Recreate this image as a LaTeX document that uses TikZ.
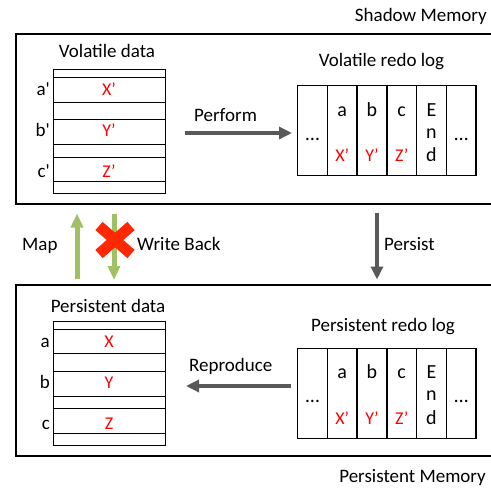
\documentclass[tikz,border=0pt]{standalone}
\usepackage{fontspec}
\setmainfont{Carlito}
\usetikzlibrary{arrows.meta,calc}
\definecolor{arrgray}{RGB}{89,89,89}
\definecolor{mapgreen}{RGB}{160,192,100}
\definecolor{xred}{RGB}{255,40,0}
\tikzset{
  outerbox/.style={draw, line width=2pt, inner sep=0pt, outer sep=0pt},
  rowbox/.style={draw, line width=0.9pt, minimum width=112pt, inner sep=0pt, outer sep=0pt},
  logcol/.style={draw, line width=1.3pt, minimum width=29.72pt, minimum height=90pt, inner sep=0pt, outer sep=0pt},
  lbl/.style={inner sep=0pt, font=\fontsize{19}{22}\selectfont},
  redtxt/.style={inner sep=0pt, text=red, font=\fontsize{18}{20}\selectfont},
  logtxt/.style={inner sep=0pt, anchor=base, font=\fontsize{20}{22}\selectfont},
  logred/.style={logtxt, text=red, font=\fontsize{18}{20}\selectfont},
  grayarrow/.style={draw=arrgray, line width=4.5pt, -{Triangle[length=13pt,width=12pt]}},
  greenarrow/.style={draw=mapgreen, line width=5pt, -{Triangle[length=14pt,width=12pt]}},
  pics/datatable/.style n args={6}{code={
    \node[rowbox, minimum height=8.4pt, anchor=north west] (-r1) at (0,0) {};
    \node[rowbox, minimum height=24.3pt, anchor=north west] (-r2) at (0,8.4) {};
    \node[rowbox, minimum height=17.3pt, anchor=north west] (-r3) at (0,32.7) {};
    \node[rowbox, minimum height=25pt, anchor=north west] (-r4) at (0,50) {};
    \node[rowbox, minimum height=12.7pt, anchor=north west] (-r5) at (0,75) {};
    \node[rowbox, minimum height=24.7pt, anchor=north west] (-r6) at (0,87.7) {};
    \node[rowbox, minimum height=11.6pt, anchor=north west] (-r7) at (0,112.4) {};
    \node[lbl, anchor=base east] (-l1) at (-3,26.2) {#1};
    \node[lbl, anchor=base east] (-l2) at (-3,67.2) {#2};
    \node[lbl, anchor=base east] (-l3) at (-3,108.5) {#3};
    \node[redtxt, anchor=base] (-v1) at (56,26.2) {#4};
    \node[redtxt, anchor=base] (-v2) at (56,67.2) {#5};
    \node[redtxt, anchor=base] (-v3) at (56,108.5) {#6};
  }},
  pics/redolog/.style={code={
    \foreach \i in {0,...,5} {\node[logcol, anchor=north west] (-c\i) at (\i*29.72,0) {};}
    \node[logtxt] (-d0) at (14.86,54.3) {\ldots};
    \node[logtxt] (-a) at (44.58,30.3) {a};
    \node[logred] (-x) at (44.58,76) {X’};
    \node[logtxt] (-b) at (74.30,30.3) {b};
    \node[logred] (-y) at (74.30,76) {Y’};
    \node[logtxt] (-c) at (104.02,30.3) {c};
    \node[logred] (-z) at (104.02,76) {Z’};
    \node[logtxt] (-e1) at (133.74,30.3) {E};
    \node[logtxt] (-e2) at (133.74,52.3) {n};
    \node[logtxt] (-e3) at (133.74,76) {d};
    \node[logtxt] (-d5) at (163.46,54.3) {\ldots};
  }}
}
\begin{document}
\begin{tikzpicture}[x=1pt,y=-1pt]
\useasboundingbox (0,0) rectangle (491,488);
% outer boxes
\node[outerbox, minimum width=490pt, minimum height=170pt, anchor=north west] (shadow) at (16,34) {};
\node[outerbox, minimum width=490pt, minimum height=171pt, anchor=north west] (pmem) at (16,285) {};
\node[lbl, anchor=base east] (shadowlbl) at (487,21) {Shadow Memory};
\node[lbl, anchor=base east] (pmemlbl) at (486,482.5) {Persistent Memory};
% data tables
\pic (vd) at (53,69.3) {datatable={a\textquotesingle}{b\textquotesingle}{c\textquotesingle}{X’}{Y’}{Z’}};
\pic (pd) at (53,321) {datatable={a}{b}{c}{X}{Y}{Z}};
\node[lbl, anchor=base] (vdtitle) at (107,57.5) {Volatile data};
\node[lbl, anchor=base] (pdtitle) at (108,312.3) {Persistent data};
% redo logs
\pic (vl) at (297.7,85.7) {redolog};
\pic (pl) at (297.7,348.3) {redolog};
\node[lbl, anchor=base] (vltitle) at (381.5,66.5) {Volatile redo log};
\node[lbl, anchor=base] (pltitle) at (383,331.7) {Persistent redo log};
% arrows
\coordinate (perfS) at (185,133);
\coordinate (perfE) at (292,133);
\draw[grayarrow] (perfS) -- (perfE);
\node[lbl, anchor=base west] (perflbl) at (194,121.7) {Perform};
\coordinate (repS) at (290.7,386);
\coordinate (repE) at (186,386);
\draw[grayarrow] (repS) -- (repE);
\node[lbl, anchor=base west] (replbl) at (189,371.7) {Reproduce};
\coordinate (perS) at (377,212.5);
\coordinate (perE) at (377,279.5);
\draw[grayarrow] (perS) -- (perE);
\node[lbl, anchor=base west] (perlbl) at (384,250) {Persist};
\coordinate (mapS) at (77,279);
\coordinate (mapE) at (77,213.5);
\draw[greenarrow] (mapS) -- (mapE);
\node[lbl, anchor=base west] (maplbl) at (22,250) {Map};
\coordinate (wbS) at (114,213.5);
\coordinate (wbE) at (114,280);
\draw[greenarrow] (wbS) -- (wbE);
\node[lbl, anchor=base west] (wblbl) at (137,250) {Write Back};
% red cross
\coordinate (xc) at (115,240);
\draw[xred, line width=11pt] ($(xc)+(-16,-14)$) -- ($(xc)+(16,14)$);
\draw[xred, line width=11pt] ($(xc)+(-16,14)$) -- ($(xc)+(16,-14)$);
\end{tikzpicture}
\end{document}
